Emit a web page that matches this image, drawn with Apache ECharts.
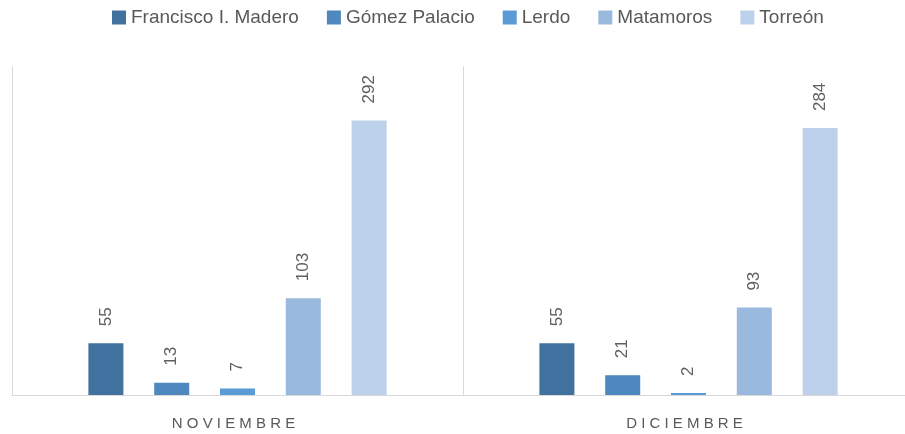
<!DOCTYPE html>
<html>
<head>
<meta charset="utf-8">
<script src="https://cdn.jsdelivr.net/npm/echarts@6/dist/echarts.min.js"></script>
<style>
html,body{margin:0;padding:0;background:#fff;overflow:hidden;width:905px;height:434px;}
#c{width:914px;height:434px;}
</style>
</head>
<body>
<div id="c"></div>
<script>
const categories = ['NOVIEMBRE', 'DICIEMBRE'];
const seriesNames = ['Francisco I. Madero', 'Gómez Palacio', 'Lerdo', 'Matamoros', 'Torreón'];
const franciscoMadero = [55, 55];
const gomezPalacio = [13, 21];
const lerdo = [7, 2];
const matamoros = [103, 93];
const torreon = [292, 284];
const colors = ['#41729F', '#4E88BE', '#5B9BD5', '#9AB9DF', '#BED1EA'];

const values = [franciscoMadero, gomezPalacio, lerdo, matamoros, torreon];
const FONT = 'Liberation Sans';

const chart = echarts.init(document.getElementById('c'), null, {renderer: 'canvas'});
chart.setOption({
  animation: false,
  color: colors,
  legend: {
    data: seriesNames,
    left: 112,
    top: 8,
    padding: 0,
    itemWidth: 14,
    itemHeight: 14,
    itemGap: 28,
    icon: 'rect',
    textStyle: {fontFamily: FONT, fontSize: 19, color: '#595959'}
  },
  grid: {left: 12, right: 0, top: 66, bottom: 39, containLabel: false},
  xAxis: {
    type: 'category',
    data: categories,
    axisLine: {show: true, lineStyle: {color: '#d9d9d9', width: 1}},
    axisTick: {show: false},
    splitLine: {show: true, interval: 0, lineStyle: {color: '#d9d9d9', width: 1}},
    axisLabel: {
      margin: 21,
      fontFamily: FONT,
      fontSize: 15,
      color: '#595959',
      padding: [0, 8, 0, 0],
      formatter: function (v) { return v.split('').join(' '); }
    }
  },
  yAxis: {
    type: 'value',
    min: 0,
    max: 350,
    show: false,
    splitLine: {show: false}
  },
  series: seriesNames.map(function (name, i) {
    return {
      name: name,
      type: 'bar',
      data: values[i],
      barWidth: 35,
      barGap: '88%',
      itemStyle: {color: colors[i]},
      label: {
        show: true,
        position: 'top',
        rotate: 90,
        align: 'left',
        verticalAlign: 'middle',
        distance: 17,
        fontFamily: FONT,
        fontSize: 17,
        color: '#606060'
      }
    };
  })
});
</script>
</body>
</html>
